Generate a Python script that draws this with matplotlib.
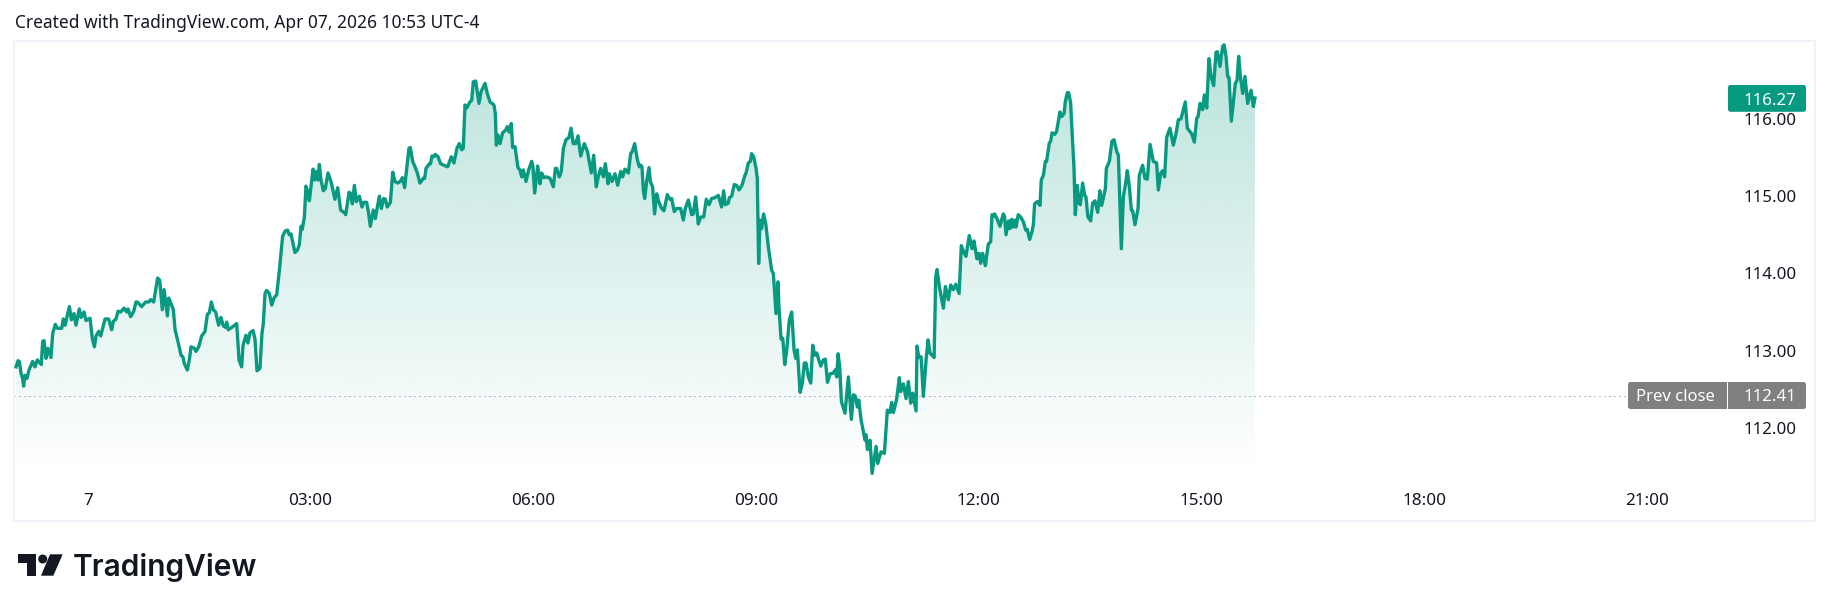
import numpy as np
import matplotlib
matplotlib.use("Agg")
import matplotlib.pyplot as plt
from matplotlib.patches import FancyBboxPatch, Polygon, Circle
from matplotlib.transforms import Affine2D

# Data: minutes from midnight, price
min_a = [-58.0, -56.4, -55.4, -54.0, -52.7, -51.9, -50.8, -49.2, -47.5, -44.6, -42.7, -40.8, -37.6, -36.5, -35.4, -33.8, -32.2, -29.8, -28.4, -26.3, -24.6, -21.1, -19.8, -18.4, -14.9, -13.3, -11.2, -9.6, -6.9, -5.5, -3.1, -1.5, 1.8, 3.6, 5.3, 6.6, 8.8, 10.4, 13.9, 16.8, 19.3, 20.6, 22.8, 24.4, 26.5, 29.2, 31.4, 32.5, 34.6, 37.1, 38.9, 40.0, 43.5, 46.7, 49.2, 50.8, 53.2, 56.4, 58.1, 60.2, 61.6, 64.3, 65.3, 67.2, 69.1, 70.5, 73.1, 75.3, 76.9, 78.0, 80.4, 82.0, 83.4, 86.1, 87.4, 89.6, 92.0, 94.7, 96.6, 98.2, 99.8, 101.4, 103.3, 105.7]
px_a = [112.79, 112.87, 112.86, 112.71, 112.64, 112.54, 112.68, 112.64, 112.75, 112.86, 112.79, 112.88, 112.82, 113.12, 113.13, 112.90, 113.03, 112.91, 113.22, 113.34, 113.29, 113.29, 113.41, 113.33, 113.57, 113.40, 113.48, 113.33, 113.54, 113.43, 113.50, 113.39, 113.42, 113.16, 113.05, 113.19, 113.25, 113.19, 113.41, 113.41, 113.27, 113.38, 113.41, 113.51, 113.50, 113.55, 113.50, 113.54, 113.44, 113.51, 113.63, 113.63, 113.57, 113.63, 113.63, 113.66, 113.63, 113.94, 113.91, 113.53, 113.79, 113.45, 113.68, 113.61, 113.53, 113.27, 113.10, 112.94, 112.92, 112.83, 112.75, 112.88, 113.05, 113.03, 112.99, 113.05, 113.19, 113.25, 113.47, 113.49, 113.63, 113.53, 113.50, 113.33]

min_b = [107.6, 109.5, 111.4, 112.2, 113.5, 116.2, 120.3, 122.2, 124.3, 125.4, 127.8, 129.4, 131.0, 133.5, 135.1, 136.7, 139.1, 140.7, 141.8, 143.2, 144.5, 146.7, 148.6, 150.7, 152.6, 154.8, 157.4, 159.6, 161.5, 162.8, 164.2, 167.4, 169.3, 170.9, 172.3, 173.3, 175.0, 176.3, 177.6, 179.0, 182.0, 183.3, 184.9, 186.0, 187.1, 188.4, 190.3, 191.9, 194.1, 196.5, 199.7, 201.9, 204.3, 207.0, 208.4, 211.1, 212.1, 213.8, 215.4, 217.0, 219.4, 221.6, 222.9, 225.3, 226.7, 228.3, 230.7, 232.3, 235.6, 237.2, 239.1, 240.4, 242.0, 244.5, 246.4, 248.2, 250.4, 252.5, 254.2, 256.0, 259.5, 260.6, 262.5, 264.4, 266.3, 268.4, 271.1, 272.2, 273.3, 276.0]
px_b = [113.43, 113.32, 113.30, 113.37, 113.27, 113.30, 113.35, 112.88, 112.79, 113.07, 113.20, 113.10, 113.23, 113.26, 113.15, 112.74, 112.77, 113.22, 113.35, 113.74, 113.78, 113.74, 113.59, 113.69, 113.72, 114.04, 114.48, 114.55, 114.56, 114.50, 114.51, 114.27, 114.30, 114.37, 114.61, 114.57, 114.73, 115.13, 115.06, 114.94, 115.35, 115.21, 115.32, 115.21, 115.41, 115.21, 115.07, 115.10, 115.30, 115.19, 114.96, 115.11, 114.82, 114.79, 114.76, 115.05, 115.04, 114.90, 115.14, 114.93, 115.00, 114.86, 114.92, 114.92, 114.80, 114.61, 114.82, 114.71, 115.00, 114.84, 114.97, 114.96, 114.86, 114.92, 115.31, 115.19, 115.17, 115.19, 115.24, 115.11, 115.62, 115.63, 115.45, 115.38, 115.30, 115.17, 115.23, 115.23, 115.36, 115.42]

min_c = [277.0, 278.1, 279.7, 280.8, 283.0, 285.1, 287.8, 290.8, 293.7, 295.9, 298.3, 300.2, 302.1, 303.4, 304.8, 306.1, 308.8, 310.2, 311.5, 313.4, 316.1, 317.7, 321.0, 322.8, 325.0, 328.2, 329.3, 330.1, 331.5, 333.1, 335.2, 337.9, 339.0, 340.6, 342.2, 343.3, 345.2, 347.6, 349.2, 350.6, 351.9, 354.1, 356.2, 358.7, 359.7, 361.1, 363.5, 365.4, 366.7, 368.6, 370.8, 373.5, 376.2, 377.8, 378.9, 381.0, 382.6, 384.3, 386.4, 388.8, 390.5, 392.3, 394.2, 396.1, 398.3, 401.2, 403.7, 406.9, 408.8, 410.9, 412.5, 414.4, 416.6, 418.2, 420.4, 421.4, 423.6, 426.0, 428.2, 430.6, 432.2, 434.1, 436.8, 438.7, 440.0, 441.9, 444.1, 445.7]
px_c = [115.42, 115.52, 115.51, 115.54, 115.51, 115.42, 115.40, 115.38, 115.51, 115.43, 115.62, 115.68, 115.60, 115.62, 116.18, 116.14, 116.22, 116.24, 116.48, 116.49, 116.20, 116.35, 116.46, 116.33, 116.22, 116.18, 116.07, 115.66, 115.79, 115.68, 115.82, 115.86, 115.90, 115.83, 115.94, 115.63, 115.64, 115.37, 115.34, 115.25, 115.34, 115.19, 115.34, 115.45, 115.38, 115.04, 115.39, 115.16, 115.30, 115.24, 115.25, 115.23, 115.12, 115.36, 115.36, 115.25, 115.32, 115.62, 115.73, 115.76, 115.88, 115.68, 115.68, 115.78, 115.52, 115.68, 115.58, 115.30, 115.53, 115.12, 115.25, 115.36, 115.25, 115.42, 115.16, 115.29, 115.19, 115.29, 115.14, 115.32, 115.25, 115.35, 115.30, 115.55, 115.58, 115.68, 115.47, 115.38]

min_d = [447.0, 447.8, 448.9, 450.0, 451.6, 453.5, 454.6, 456.4, 458.0, 459.7, 461.3, 463.7, 465.6, 468.3, 470.4, 471.8, 473.9, 475.8, 479.1, 481.2, 482.8, 485.3, 488.0, 489.3, 491.2, 493.3, 495.2, 497.7, 499.8, 502.0, 504.1, 506.8, 509.5, 512.2, 513.8, 515.2, 517.6, 518.4, 520.3, 522.4, 524.3, 526.2, 528.6, 531.0, 531.9, 533.8, 535.4, 536.4, 538.1, 540.0, 541.0, 542.1, 543.2, 544.5, 546.1, 547.8, 549.9, 552.6, 554.0, 556.1, 557.7, 558.5]
px_d = [115.40, 115.38, 115.08, 114.97, 115.19, 115.37, 115.19, 115.12, 114.77, 115.03, 114.93, 114.84, 114.81, 115.02, 114.96, 114.97, 114.80, 114.84, 114.84, 114.69, 114.84, 114.95, 114.76, 114.77, 114.99, 114.64, 114.73, 114.73, 114.96, 114.89, 114.97, 114.98, 115.01, 114.86, 115.07, 114.89, 114.91, 114.98, 115.00, 115.15, 115.14, 115.08, 115.14, 115.27, 115.30, 115.43, 115.45, 115.55, 115.51, 115.36, 115.23, 114.13, 114.69, 114.58, 114.77, 114.65, 114.35, 114.04, 114.00, 113.48, 113.89, 113.57]

min_e = [560.2, 561.6, 563.2, 564.8, 566.9, 568.8, 570.7, 572.1, 573.4, 575.6, 577.4, 579.0, 580.4, 582.3, 584.2, 585.8, 587.4, 589.0, 592.3, 594.4, 596.0, 597.7, 599.8, 602.5, 603.9, 605.2, 606.3, 607.6, 609.0, 611.9, 614.6, 617.0, 618.7, 620.3, 621.9, 623.0, 624.9, 628.1, 628.9, 630.0, 632.1, 633.8, 637.0, 638.3, 641.0, 643.7, 646.1, 648.3, 649.6, 651.0, 653.7, 655.8, 656.9, 659.1, 661.2, 663.1, 665.0, 666.6, 669.3, 670.1, 671.5, 673.4, 675.2, 677.4, 679.0, 680.6, 683.9, 685.2, 686.3, 688.2, 691.4, 693.0, 695.4, 697.3, 699.5, 701.4, 704.1]
px_e = [113.15, 113.16, 112.82, 113.01, 113.40, 113.50, 113.01, 112.90, 113.01, 112.46, 112.58, 112.84, 112.84, 112.66, 112.58, 113.07, 112.94, 112.97, 112.80, 112.88, 112.89, 112.59, 112.70, 112.71, 112.75, 112.66, 112.96, 112.79, 112.34, 112.19, 112.66, 112.11, 112.43, 112.41, 112.27, 112.36, 112.10, 111.84, 111.91, 111.72, 111.84, 111.41, 111.76, 111.54, 111.69, 111.67, 112.23, 112.20, 112.33, 112.20, 112.38, 112.65, 112.47, 112.57, 112.38, 112.60, 112.32, 112.45, 112.22, 113.06, 112.91, 112.92, 112.41, 112.88, 113.14, 112.97, 112.91, 113.96, 114.05, 113.82, 113.55, 113.83, 113.66, 113.85, 113.79, 113.86, 113.74]

min_f = [705.9, 707.5, 709.6, 712.3, 714.5, 716.1, 718.5, 720.2, 721.5, 723.1, 725.3, 727.7, 729.6, 730.7, 731.7, 732.8, 735.2, 737.1, 739.8, 740.9, 742.0, 744.1, 745.2, 746.6, 747.9, 749.2, 750.1, 751.9, 753.8, 756.0, 757.9, 759.2, 761.1, 763.0, 764.1, 765.1, 767.3, 769.5, 770.5, 772.2, 773.8, 774.8, 777.0, 778.1, 779.2, 781.3, 782.9, 784.0, 785.6, 787.0, 788.9, 789.9, 791.5, 792.6, 794.2]
px_f = [114.36, 114.29, 114.22, 114.49, 114.32, 114.42, 114.19, 114.26, 114.13, 114.26, 114.10, 114.38, 114.41, 114.76, 114.74, 114.77, 114.69, 114.61, 114.77, 114.73, 114.50, 114.68, 114.58, 114.70, 114.60, 114.69, 114.60, 114.76, 114.73, 114.67, 114.56, 114.57, 114.44, 114.54, 114.63, 114.90, 114.93, 114.88, 115.21, 115.27, 115.45, 115.45, 115.69, 115.71, 115.82, 115.80, 115.84, 115.94, 116.09, 116.03, 116.07, 116.22, 116.34, 116.34, 116.21]

min_g = [795.3, 796.9, 798.0, 799.6, 801.0, 802.1, 803.9, 805.6, 806.6, 808.2, 810.4, 812.0, 813.9, 816.1, 817.9, 819.3, 822.3, 823.1, 825.5, 827.6, 829.3, 831.4, 832.8, 835.2, 836.8, 838.7, 840.0, 841.7, 843.3, 844.4, 846.2, 848.7, 849.7, 852.4, 854.3, 856.2, 858.4, 861.0, 863.7, 865.1, 867.0, 868.6, 870.2, 871.8, 874.5, 877.2, 879.4, 881.3, 883.4, 886.9, 888.5, 892.0, 894.2, 896.1, 897.2, 898.8, 900.9, 902.3, 904.2, 906.0, 907.7, 909.8, 911.7, 912.8, 914.9, 917.1, 918.2, 919.8, 921.1, 922.2, 924.1, 925.7, 927.3, 928.7, 930.0, 931.4, 933.3, 935.1, 937.3, 940.0, 941.9, 943.2]
px_g = [115.86, 115.38, 114.76, 115.14, 114.91, 114.89, 115.17, 115.01, 114.99, 114.73, 114.68, 114.91, 114.94, 114.79, 115.07, 114.88, 115.10, 115.36, 115.45, 115.71, 115.73, 115.58, 115.53, 114.32, 114.99, 115.17, 115.33, 115.12, 114.82, 114.81, 114.63, 114.84, 115.27, 115.40, 115.23, 115.22, 115.67, 115.45, 115.43, 115.08, 115.30, 115.33, 115.25, 115.76, 115.88, 115.66, 115.81, 115.99, 116.00, 116.22, 115.88, 115.81, 115.70, 116.01, 116.03, 116.20, 116.12, 116.31, 116.14, 116.78, 116.55, 116.43, 116.86, 116.87, 116.68, 116.94, 116.96, 116.81, 116.55, 116.54, 115.97, 116.22, 116.46, 116.50, 116.81, 116.55, 116.33, 116.55, 116.20, 116.37, 116.16, 116.27]

xtick_minutes = [0, 180, 360, 540, 720, 900, 1080, 1260]
xtick_labels = ["7", "03:00", "06:00", "09:00", "12:00", "15:00", "18:00", "21:00"]
ytick_values = [112, 113, 114, 115, 116]
last_price = 116.27
prev_close = 112.41

minutes = np.concatenate([min_a, min_b, min_c, min_d, min_e, min_f, min_g])
prices = np.concatenate([px_a, px_b, px_c, px_d, px_e, px_f, px_g])

GREEN = "#089981"
INK = "#131722"
GREY = "#808080"
W, H = 1830, 611
plt.rcParams["font.family"] = ["Noto Sans", "DejaVu Sans"]

fig = plt.figure(figsize=(W / 100, H / 100), dpi=100)
ax = fig.add_axes([14.2 / W, 1 - 520.6 / H, 1800.6 / W, 480.1 / H])
ax.set_xlim(-59.5, 1395.6)
ax.set_ylim(110.80, 117.015)

# gradient under the line
floor = prices.min()
grad = np.zeros((256, 1, 4))
grad[..., :3] = matplotlib.colors.to_rgb(GREEN)
grad[:, 0, 3] = np.linspace(0.28, 0, 256)
area = ax.fill_between(minutes, prices, floor, color="none", lw=0)
im = ax.imshow(grad, aspect="auto", origin="upper", zorder=1,
               extent=[minutes[0], minutes[-1], floor, prices.max()])
im.set_clip_path(area.get_paths()[0], transform=ax.transData)
ax.set_xlim(-59.5, 1395.6)
ax.set_ylim(110.80, 117.015)

ax.plot(minutes, prices, color=GREEN, lw=2.4, solid_joinstyle="round", zorder=3)
ax.plot([0, 0.8963], [prev_close, prev_close], transform=ax.get_yaxis_transform(),
        color="#787B86", lw=0.72, ls=(0, (1, 4)), zorder=2)

for s in ax.spines.values():
    s.set_color("#F0F3FA")
    s.set_linewidth(1.44)

ax.set_xticks(xtick_minutes, xtick_labels)
ax.set_yticks(ytick_values, [f"{v:.2f}" for v in ytick_values])
ax.yaxis.tick_right()
ax.tick_params(axis="x", length=0, pad=-14.3, labelsize=12.3, labelcolor=INK)
ax.tick_params(axis="y", length=0, pad=-13.2, labelsize=12.2, labelcolor=INK)
plt.setp(ax.get_xticklabels(), va="center")
plt.setp(ax.get_yticklabels(), ha="right")

# everything below is placed in image pixels
px = Affine2D().scale(1 / W, -1 / H).translate(0, 1) + fig.transFigure


def pill(x0, x1, y0, y1, color):
    fig.add_artist(FancyBboxPatch((x0, y0), x1 - x0, y1 - y0, boxstyle="round,pad=0,rounding_size=2.5",
                                  fc=color, ec="none", transform=px, zorder=5))


pill(1728, 1806, 85, 111.8, GREEN)
pill(1628, 1806, 382, 409, GREY)
fig.add_artist(plt.Line2D([1727.2, 1727.2], [382, 409], color="white", lw=0.72, transform=px, zorder=6))

fig.text(1796.4, 101, f"{last_price:.2f}", transform=px, color="white", fontsize=12.2, weight="bold",
         ha="right", va="center", zorder=7)
fig.text(1796.4, 397, f"{prev_close:.2f}", transform=px, color="white", fontsize=12.2, weight="bold",
         ha="right", va="center", zorder=7)
fig.text(1636.5, 397, "Prev close", transform=px, color="white", fontsize=12, weight="bold",
         ha="left", va="center", zorder=7)

fig.text(15, 23, "Created with TradingView.com, Apr 07, 2026 10:53 UTC-4", transform=px,
         color=INK, fontsize=12.5, ha="left", va="center")

# logo
fig.add_artist(Polygon([(18, 554.3), (36, 554.3), (36, 575.7), (26.7, 575.7), (26.7, 563.3), (18, 563.3)],
                       closed=True, fc=INK, ec="none", transform=px))
fig.add_artist(Circle((42.7, 559), 4.5, fc=INK, ec="none", transform=px))
fig.add_artist(Polygon([(50, 554.3), (62.7, 554.3), (53.3, 575.7), (41, 575.7)],
                       closed=True, fc=INK, ec="none", transform=px))
fig.text(73, 575.7, "TradingView", transform=px, color=INK, fontsize=21.5, family="Inter", weight="semibold",
         ha="left", va="baseline")

fig.savefig("out.png", dpi=100)
